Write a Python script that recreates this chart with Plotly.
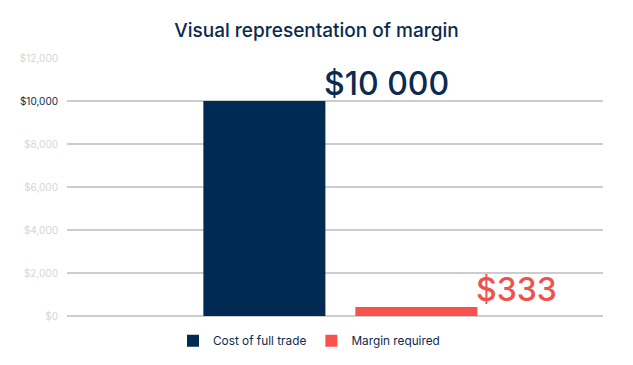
import plotly.graph_objects as go

categories = [""]
series_names = ["Cost of full trade", "Margin required"]
series_values = [10000, 420]
value_labels = ["$10 000", "$333"]
colors = ["#002a52", "#f8524c"]
label_colors = ["#0b2a4f", "#ef524e"]
tick_vals = [0, 2000, 4000, 6000, 8000, 10000, 12000]
tick_labels = ["$0", "$2,000", "$4,000", "$6,000", "$8,000", "$10,000", "$12,000"]
highlight_tick = 10000

FONT = "Inter, Lato, 'Noto Sans', sans-serif"

fig = go.Figure()
for name, val, col in zip(series_names, series_values, colors):
    fig.add_trace(go.Bar(x=categories, y=[val], name=name, marker=dict(color=col, line=dict(width=0)),
                         hoverinfo="skip"))

ticktext = []
for v, t in zip(tick_vals, tick_labels):
    if v == highlight_tick:
        ticktext.append(f"<span style='color:#0b2a4f'>{t}</span>")
    else:
        ticktext.append(f"<span style='color:#d6d6d6'>{t}</span>")

# annotations next to each bar
xshifts = [-18, 134]
for val, lab, lc, xs in zip(series_values, value_labels, label_colors, xshifts):
    fig.add_annotation(x=0, y=val, xref="x", yref="y", text=lab, showarrow=False,
                       xanchor="left", yanchor="bottom", xshift=xs, yshift=-4,
                       font=dict(family=FONT, size=32, color=lc, weight=500))

fig.update_layout(
    width=633, height=365,
    margin=dict(l=67, r=30, t=58, b=49, autoexpand=False),
    paper_bgcolor="white", plot_bgcolor="white",
    barmode="group", bargap=0.433, bargroupgap=0.197,
    title=dict(text="Visual representation of margin", x=0.5, xanchor="center",
               y=0.918, yanchor="middle",
               font=dict(family=FONT, size=19, color="#0b2a4f", weight=500)),
    xaxis=dict(showgrid=False, showticklabels=False, zeroline=False, range=[-0.51, 0.49],
               fixedrange=True, automargin=False),
    yaxis=dict(range=[0, 12000], tickvals=tick_vals, ticktext=ticktext,
               showgrid=True, gridcolor="#cccccc", gridwidth=1.5,
               zeroline=True, zerolinecolor="#cccccc", zerolinewidth=1.5,
               ticklabelstandoff=8, automargin=False,
               tickfont=dict(family=FONT, size=10, color="#d6d6d6"), fixedrange=True),
    legend=dict(orientation="h", x=0.4515, xanchor="center", y=-0.04, yanchor="top",
                font=dict(family=FONT, size=11.8, color="#0b2a4f"),
                itemwidth=30, traceorder="normal"),
    showlegend=True,
)

fig.write_html("out.html", config={"displayModeBar": False},
               post_script="document.body.style.margin='0';document.body.style.overflow='hidden';")
